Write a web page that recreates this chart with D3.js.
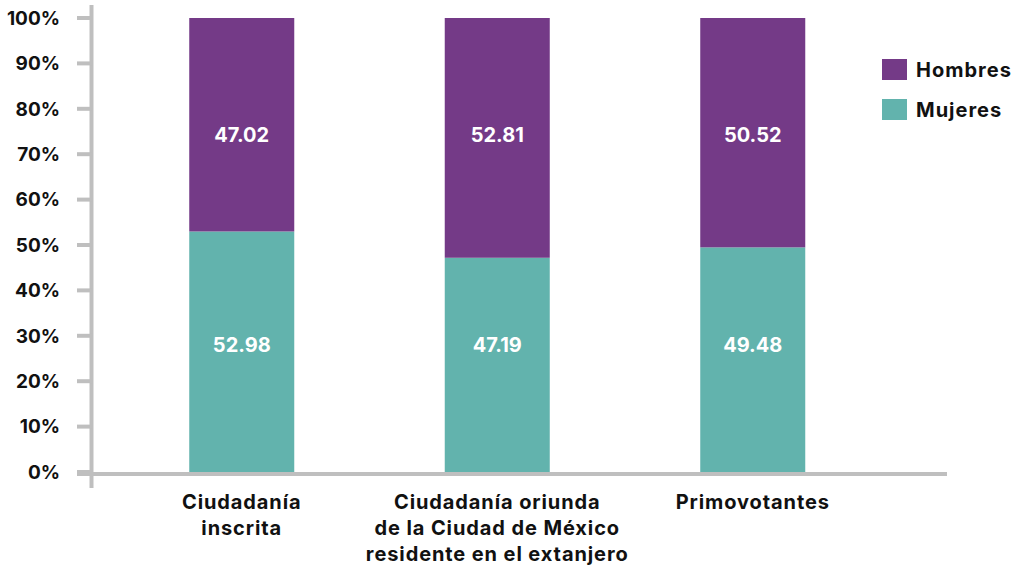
<!DOCTYPE html>
<html>
<head>
<meta charset="utf-8">
<script src="https://cdn.jsdelivr.net/npm/d3@7"></script>
<style>
  body { margin: 0; background: #fff; }
  text { font-family: Inter, "Open Sans", sans-serif; font-weight: 700; }
</style>
</head>
<body>
<svg id="chart" width="1019" height="570"></svg>
<script>
var categories = [
    ["Ciudadanía", "inscrita"],
    ["Ciudadanía oriunda", "de la Ciudad de México", "residente en el extanjero"],
    ["Primovotantes"]
];
var mujeres = [52.98, 47.19, 49.48];
var hombres = [47.02, 52.81, 50.52];
var seriesNames = ["Hombres", "Mujeres"];
var yTicks = [0, 10, 20, 30, 40, 50, 60, 70, 80, 90, 100];

var colors = { Hombres: "#743a87", Mujeres: "#62b3ad" };
var axisColor = "#bfbfbf";

var svg = d3.select("#chart");

var data = categories.map(function(c, i) {
    return { key: i, label: c, Mujeres: mujeres[i], Hombres: hombres[i] };
});

var x = d3.scaleBand()
    .domain(data.map(function(d) { return d.key; }))
    .range([114, 880.5])
    .paddingInner(0.589)
    .paddingOuter(0.2945);

var y = d3.scaleLinear()
    .domain([0, 100])
    .range([472, 18]);

var stack = d3.stack().keys(["Mujeres", "Hombres"]);
var layers = stack(data);

// y axis
var yAxis = svg.append("g");
yAxis.append("line")
    .attr("x1", 91.5).attr("x2", 91.5)
    .attr("y1", 5).attr("y2", 488)
    .attr("stroke", axisColor).attr("stroke-width", 4);
yAxis.selectAll(".tick")
    .data(yTicks)
  .enter().append("line")
    .attr("x1", 77).attr("x2", 92)
    .attr("y1", function(d) { return y(d); })
    .attr("y2", function(d) { return y(d); })
    .attr("stroke", axisColor).attr("stroke-width", 4);
yAxis.selectAll(".lbl")
    .data(yTicks)
  .enter().append("text")
    .attr("x", 60)
    .attr("y", function(d) { return y(d); })
    .attr("dy", "0.36em")
    .attr("text-anchor", "end")
    .attr("font-size", 19)
    .attr("fill", "#111")
    .text(function(d) { return d + "%"; });

// bars
svg.selectAll(".layer")
    .data(layers)
  .enter().append("g")
    .attr("fill", function(d) { return colors[d.key]; })
  .selectAll("rect")
    .data(function(d) { return d; })
  .enter().append("rect")
    .attr("x", function(d) { return x(d.data.key); })
    .attr("width", x.bandwidth())
    .attr("y", function(d) { return y(d[1]); })
    .attr("height", function(d) { return y(d[0]) - y(d[1]); });

// x axis line
svg.append("line")
    .attr("x1", 77).attr("x2", 947)
    .attr("y1", 474).attr("y2", 474)
    .attr("stroke", axisColor).attr("stroke-width", 4);

// value labels
var labelPos = { Mujeres: 28, Hombres: 74.3 };
["Mujeres", "Hombres"].forEach(function(k) {
    svg.selectAll(".v" + k)
        .data(data)
      .enter().append("text")
        .attr("x", function(d) { return x(d.key) + x.bandwidth() / 2; })
        .attr("y", y(labelPos[k]))
        .attr("dy", "0.36em")
        .attr("text-anchor", "middle")
        .attr("font-size", 20)
        .attr("fill", "#fff")
        .text(function(d) { return d[k].toFixed(2); });
});

// category labels
var cat = svg.selectAll(".cat")
    .data(data)
  .enter().append("text")
    .attr("x", function(d) { return x(d.key) + x.bandwidth() / 2; })
    .attr("y", 502)
    .attr("text-anchor", "middle")
    .attr("font-size", 20)
    .attr("letter-spacing", "0.9px")
    .attr("fill", "#111");
cat.selectAll("tspan")
    .data(function(d) { return d.label; })
  .enter().append("tspan")
    .attr("x", function() { return d3.select(this.parentNode).attr("x"); })
    .attr("dy", function(d, i) { return i === 0 ? "0.36em" : "1.3em"; })
    .text(function(d) { return d; });

// legend
var legend = svg.selectAll(".legend")
    .data(seriesNames)
  .enter().append("g")
    .attr("transform", function(d, i) { return "translate(882," + (59 + i * 40) + ")"; });
legend.append("rect")
    .attr("width", 25).attr("height", 21)
    .attr("fill", function(d) { return colors[d]; });
legend.append("text")
    .attr("x", 34).attr("y", 11)
    .attr("dy", "0.36em")
    .attr("font-size", 20)
    .attr("letter-spacing", "1px")
    .attr("fill", "#111")
    .text(function(d) { return d; });
</script>
</body>
</html>
